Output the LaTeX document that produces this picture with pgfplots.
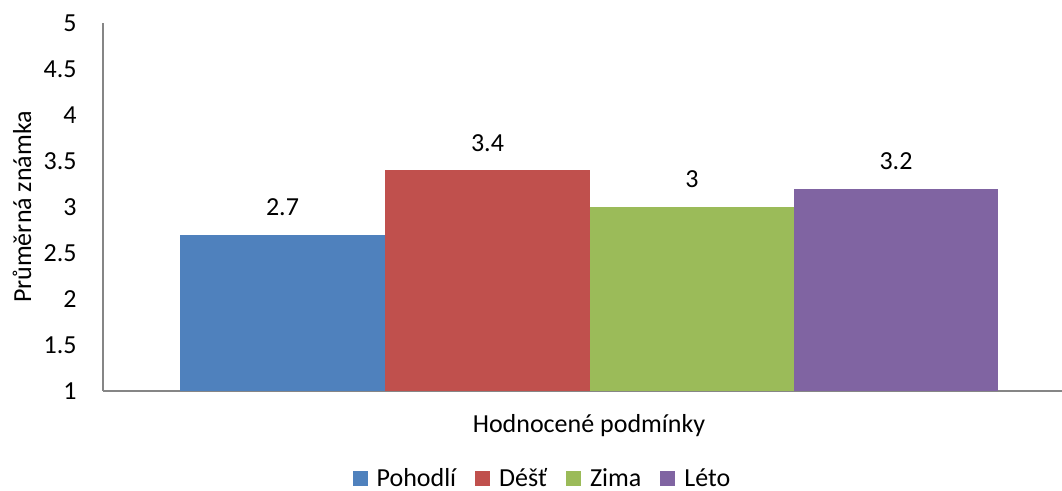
\documentclass[border=0pt]{standalone}
\usepackage{fontspec}
\setmainfont{Carlito}
\usepackage{pgfplots}
\pgfplotsset{compat=1.18}
\definecolor{cblue}{HTML}{4F81BD}
\definecolor{cred}{HTML}{C0504D}
\definecolor{cgreen}{HTML}{9BBB59}
\definecolor{cpurple}{HTML}{8064A2}
\definecolor{axgray}{HTML}{868686}
\begin{document}
\begin{tikzpicture}[font=\fontsize{13pt}{15pt}\selectfont]
\useasboundingbox (0,0) rectangle (531pt,245.5pt);
\begin{axis}[
  at={(51.5pt,50pt)}, anchor=south west,
  scale only axis, width=479.5pt, height=184pt,
  xmin=103, xmax=1062, ymin=1, ymax=5,
  ytick={1,1.5,2,2.5,3,3.5,4,4.5,5},
  xtick=\empty,
  /pgf/number format/assume math mode=true,
  ticklabel style={font=\fontsize{13pt}{15pt}\selectfont},
  yticklabel style={anchor=east, inner sep=0pt, xshift=-13pt},
  major tick length=0pt,
  axis x line=bottom, axis y line=left,
  axis line style={-, draw=axgray, line width=0.9pt},
  label style={font=\fontsize{13pt}{15pt}\selectfont},
  ylabel={Průměrná známka},
  ylabel style={at={(axis description cs:0,0.5)}, anchor=center, rotate=0, yshift=40.5pt},
  xlabel={Hodnocené podmínky},
  xlabel style={at={(axis description cs:0.5068,0)}, anchor=center, yshift=-17.5pt},
  ybar, bar width=204.5, bar shift=0pt,
  nodes near coords,
  nodes near coords style={anchor=center, yshift=13.75pt, font=\fontsize{13pt}{15pt}\selectfont},
  legend columns=4,
  legend style={draw=none, at={(axis description cs:0.4593,0)}, anchor=center, yshift=-44pt,
    /tikz/every odd column/.append style={column sep=2.5pt},
    /tikz/every even column/.append style={column sep=7.5pt}, inner sep=0pt,
    font=\fontsize{13pt}{15pt}\selectfont},
  legend image code/.code={\fill[#1] (0pt,-3.75pt) rectangle (7.5pt,3.75pt);},
]
\addplot[fill=cblue, draw=none] coordinates {(282.5,2.7)};
\addplot[fill=cred, draw=none] coordinates {(487.5,3.4)};
\addplot[fill=cgreen, draw=none] coordinates {(692,3)};
\addplot[fill=cpurple, draw=none] coordinates {(896,3.2)};
\legend{Pohodlí,Déšť,Zima,Léto}
\end{axis}
\end{tikzpicture}
\end{document}
